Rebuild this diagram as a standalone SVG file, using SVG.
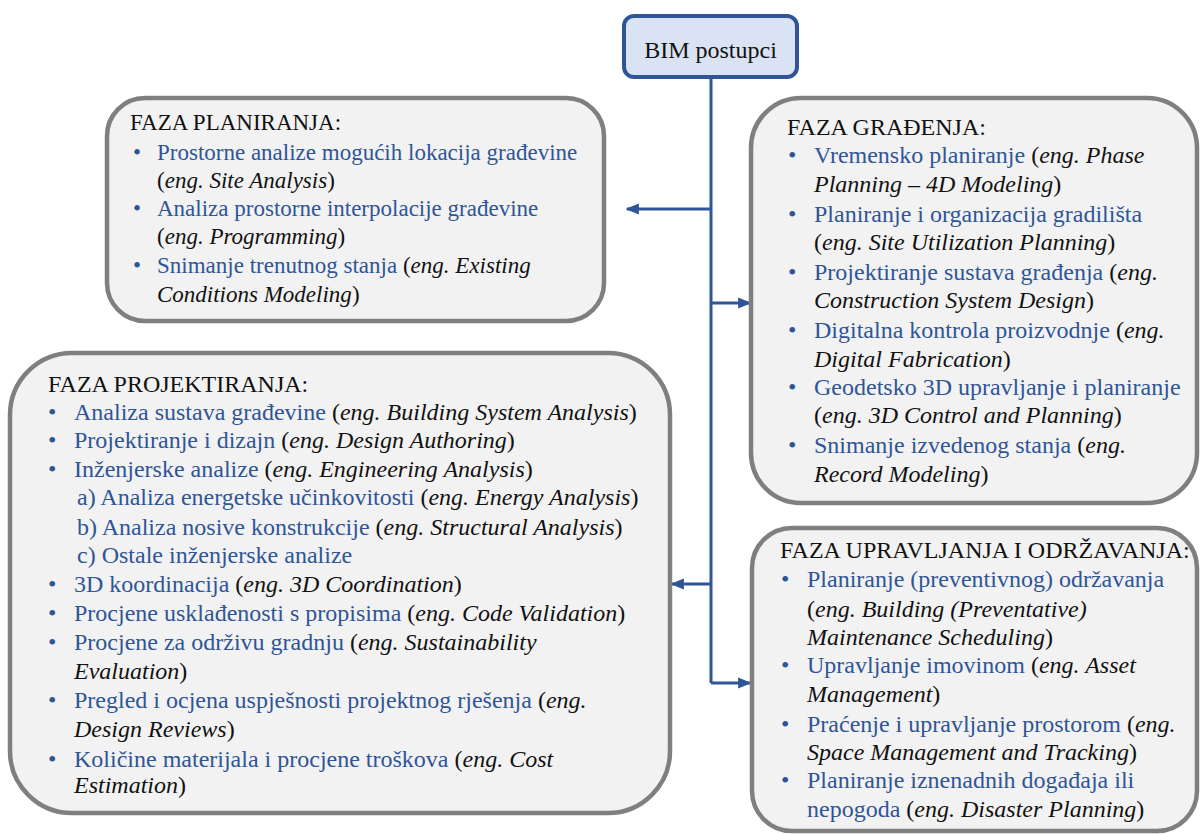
<svg xmlns="http://www.w3.org/2000/svg" width="1201" height="834" viewBox="0 0 1201 834" font-family="'Liberation Serif', 'Times New Roman', serif">
  <defs>
    <style>
      .box { fill: #f2f2f2; stroke: #7f7f7f; stroke-width: 4.5; }
      .root { fill: #dae3f3; stroke: #2f5597; stroke-width: 4; }
      text, tspan { font-family: "Liberation Serif", "Times New Roman", serif; font-size: 23px; }
      .s24 text, .s24 tspan { font-size: 24px; }
      text { fill: #111111; }
      .b { fill: #2f5597; }
      .i { font-style: italic; fill: #111111; }
      .link { fill: none; stroke: #2f5597; stroke-width: 3; }
    </style>
    <marker id="arrow" viewBox="0 0 10 10" refX="9" refY="5" markerWidth="4.4" markerHeight="4.4" markerUnits="strokeWidth" orient="auto">
      <path d="M0,0.8 L10,5 L0,9.2 z" fill="#2f5597"/>
    </marker>
  </defs>

  <rect width="1201" height="834" fill="#ffffff"/>

  <!-- connectors from the root node to the four phases -->
  <g id="connectors">
    <path class="link" d="M711,78 V683"/>
    <path class="link" d="M711,209 H627" marker-end="url(#arrow)"/>
    <path class="link" d="M711,303 H750" marker-end="url(#arrow)"/>
    <path class="link" d="M711,584 H672" marker-end="url(#arrow)"/>
    <path class="link" d="M711,683 H750" marker-end="url(#arrow)"/>
  </g>

  <!-- root -->
  <g id="bim-postupci" class="s24">
    <rect class="root" x="624" y="16" width="173" height="61" rx="10"/>
    <text x="710.5" y="58" text-anchor="middle">BIM postupci</text>
  </g>

  <!-- planning phase -->
  <g id="faza-planiranja">
    <rect class="box" x="107" y="98" width="497" height="223" rx="38"/>
    <text x="130" y="130">FAZA PLANIRANJA:</text>
    <text x="133" y="160" class="b">•</text>
    <text x="157" y="160"><tspan class="b">Prostorne analize mogućih lokacija građevine</tspan></text>
    <text x="157" y="188">(<tspan class="i">eng. Site Analysis</tspan>)</text>
    <text x="133" y="216" class="b">•</text>
    <text x="157" y="216"><tspan class="b">Analiza prostorne interpolacije građevine</tspan></text>
    <text x="157" y="244">(<tspan class="i">eng. Programming</tspan>)</text>
    <text x="133" y="273" class="b">•</text>
    <text x="157" y="273"><tspan class="b">Snimanje trenutnog stanja</tspan> (<tspan class="i">eng. Existing</tspan></text>
    <text x="157" y="302"><tspan class="i">Conditions Modeling</tspan>)</text>
  </g>

  <!-- construction phase -->
  <g id="faza-gradenja" class="s24">
    <rect class="box" x="751" y="98" width="446" height="405" rx="50"/>
    <text x="787" y="135">FAZA GRAĐENJA:</text>
    <text x="788" y="163" class="b">•</text>
    <text x="814" y="163"><tspan class="b">Vremensko planiranje</tspan> (<tspan class="i">eng. Phase</tspan></text>
    <text x="814" y="192"><tspan class="i">Planning – 4D Modeling</tspan>)</text>
    <text x="788" y="222" class="b">•</text>
    <text x="814" y="222"><tspan class="b">Planiranje i organizacija gradilišta</tspan></text>
    <text x="814" y="250">(<tspan class="i">eng. Site Utilization Planning</tspan>)</text>
    <text x="788" y="280" class="b">•</text>
    <text x="814" y="280"><tspan class="b">Projektiranje sustava građenja</tspan> (<tspan class="i">eng.</tspan></text>
    <text x="814" y="308"><tspan class="i">Construction System Design</tspan>)</text>
    <text x="788" y="338" class="b">•</text>
    <text x="814" y="338"><tspan class="b">Digitalna kontrola proizvodnje</tspan> (<tspan class="i">eng.</tspan></text>
    <text x="814" y="367"><tspan class="i">Digital Fabrication</tspan>)</text>
    <text x="788" y="395" class="b">•</text>
    <text x="814" y="395"><tspan class="b">Geodetsko 3D upravljanje i planiranje</tspan></text>
    <text x="814" y="423">(<tspan class="i">eng. 3D Control and Planning</tspan>)</text>
    <text x="788" y="453" class="b">•</text>
    <text x="814" y="453"><tspan class="b">Snimanje izvedenog stanja</tspan> (<tspan class="i">eng.</tspan></text>
    <text x="814" y="482"><tspan class="i">Record Modeling</tspan>)</text>
  </g>

  <!-- design phase -->
  <g id="faza-projektiranja" class="s24">
    <rect class="box" x="10" y="353" width="660" height="460" rx="62"/>
    <text x="48" y="392">FAZA PROJEKTIRANJA:</text>
    <text x="48" y="420" class="b">•</text>
    <text x="74" y="420"><tspan class="b">Analiza sustava građevine</tspan> (<tspan class="i">eng. Building System Analysis</tspan>)</text>
    <text x="48" y="448" class="b">•</text>
    <text x="74" y="448"><tspan class="b">Projektiranje i dizajn</tspan> (<tspan class="i">eng. Design Authoring</tspan>)</text>
    <text x="48" y="477" class="b">•</text>
    <text x="74" y="477"><tspan class="b">Inženjerske analize</tspan> (<tspan class="i">eng. Engineering Analysis</tspan>)</text>
    <text x="77" y="505"><tspan class="b">a) Analiza energetske učinkovitosti</tspan> (<tspan class="i">eng. Energy Analysis</tspan>)</text>
    <text x="77" y="535"><tspan class="b">b) Analiza nosive konstrukcije</tspan> (<tspan class="i">eng. Structural Analysis</tspan>)</text>
    <text x="77" y="563"><tspan class="b">c) Ostale inženjerske analize</tspan></text>
    <text x="48" y="592" class="b">•</text>
    <text x="74" y="592"><tspan class="b">3D koordinacija</tspan> (<tspan class="i">eng. 3D Coordination</tspan>)</text>
    <text x="48" y="621" class="b">•</text>
    <text x="74" y="621"><tspan class="b">Procjene usklađenosti s propisima</tspan> (<tspan class="i">eng. Code Validation</tspan>)</text>
    <text x="48" y="650" class="b">•</text>
    <text x="74" y="650"><tspan class="b">Procjene za održivu gradnju</tspan> (<tspan class="i">eng. Sustainability</tspan></text>
    <text x="74" y="679"><tspan class="i">Evaluation</tspan>)</text>
    <text x="48" y="708" class="b">•</text>
    <text x="74" y="708"><tspan class="b">Pregled i ocjena uspješnosti projektnog rješenja</tspan> (<tspan class="i">eng.</tspan></text>
    <text x="74" y="737"><tspan class="i">Design Reviews</tspan>)</text>
    <text x="48" y="767" class="b">•</text>
    <text x="74" y="767"><tspan class="b">Količine materijala i procjene troškova</tspan> (<tspan class="i">eng. Cost</tspan></text>
    <text x="74" y="793"><tspan class="i">Estimation</tspan>)</text>
  </g>

  <!-- operation and maintenance phase -->
  <g id="faza-upravljanja" class="s24">
    <rect class="box" x="752" y="528" width="445" height="303" rx="40"/>
    <text x="780" y="558">FAZA UPRAVLJANJA I ODRŽAVANJA:</text>
    <text x="781" y="587" class="b">•</text>
    <text x="807" y="587"><tspan class="b">Planiranje (preventivnog) održavanja</tspan></text>
    <text x="807" y="617">(<tspan class="i">eng. Building (Preventative)</tspan></text>
    <text x="807" y="645"><tspan class="i">Maintenance Scheduling</tspan>)</text>
    <text x="781" y="673" class="b">•</text>
    <text x="807" y="673"><tspan class="b">Upravljanje imovinom</tspan> (<tspan class="i">eng. Asset</tspan></text>
    <text x="807" y="702"><tspan class="i">Management</tspan>)</text>
    <text x="781" y="732" class="b">•</text>
    <text x="807" y="732"><tspan class="b">Praćenje i upravljanje prostorom</tspan> (<tspan class="i">eng.</tspan></text>
    <text x="807" y="760"><tspan class="i">Space Management and Tracking</tspan>)</text>
    <text x="781" y="788" class="b">•</text>
    <text x="807" y="788"><tspan class="b">Planiranje iznenadnih događaja ili</tspan></text>
    <text x="807" y="817"><tspan class="b">nepogoda</tspan> (<tspan class="i">eng. Disaster Planning</tspan>)</text>
  </g>
</svg>
